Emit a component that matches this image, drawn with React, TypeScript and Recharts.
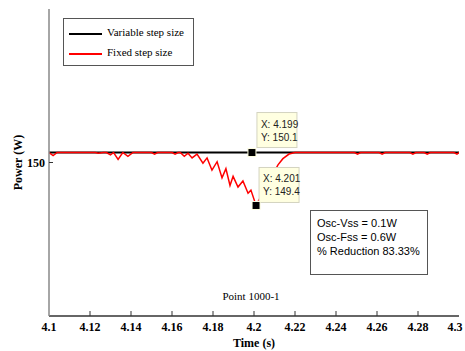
import { LineChart, Line, XAxis, YAxis, ReferenceDot, Label } from 'recharts'

// time axis (s)
const xTicks = [4.1, 4.12, 4.14, 4.16, 4.18, 4.2, 4.22, 4.24, 4.26, 4.28, 4.3]
const xTickLabels = ['4.1', '4.12', '4.14', '4.16', '4.18', '4.2', '4.22', '4.24', '4.26', '4.28', '4.3']
const yTicks = [150]
const yTickLabels = ['150']

// variable step size: flat
const varTime = [4.1, 4.3]
const varPower = [150.13, 150.13]

// fixed step size: ripples, then the dip around 4.2 s
const fixTime = [
  4.1, 4.102, 4.104, 4.1225, 4.124, 4.1265, 4.128, 4.13, 4.1315, 4.1337, 4.136, 4.1385, 4.141,
  4.15, 4.1515, 4.153, 4.16, 4.1615, 4.163, 4.164, 4.166, 4.1678, 4.1698, 4.1722, 4.1751, 4.1771,
  4.1795, 4.182, 4.1844, 4.1863, 4.1883, 4.1898, 4.1922, 4.1946, 4.1971, 4.1985, 4.201,
  4.2117, 4.2141, 4.2171, 4.22, 4.249, 4.2505, 4.252, 4.261, 4.2625, 4.264, 4.276, 4.2775, 4.279,
  4.283, 4.2845, 4.286, 4.2975, 4.299, 4.3,
]
const fixPower = [
  150.13, 150.09, 150.13, 150.13, 150.12, 150.13, 150.13, 150.1, 150.13, 150.04, 150.13, 150.08, 150.13,
  150.13, 150.11, 150.13, 150.13, 150.11, 150.13, 150.13, 150.08, 150.12, 150.06, 150.11, 149.99, 150.06,
  149.9, 150.01, 149.8, 149.92, 149.7, 149.82, 149.68, 149.76, 149.6, 149.64, 149.44,
  149.97, 150.05, 150.11, 150.13, 150.13, 150.11, 150.13, 150.13, 150.11, 150.13, 150.13, 150.11, 150.13,
  150.13, 150.11, 150.13, 150.13, 150.11, 150.13,
]

const varData = varTime.map((t, i) => ({ t, p: varPower[i] }))
const fixData = fixTime.map((t, i) => ({ t, p: fixPower[i] }))

const tip1 = { x: 4.199, y: 150.13, lines: ['X: 4.199', 'Y: 150.1'] }
const tip2 = { x: 4.201, y: 149.44, lines: ['X: 4.201', 'Y: 149.4'] }

const serif = '"Liberation Serif", "Times New Roman", serif'
const sans = '"Liberation Sans", Arial, sans-serif'

const BottomTick = (props: any) => {
  const { x, y, payload, index } = props
  const edge = index === 0 || index === xTicks.length - 1
  return (
    <g>
      {!edge && <line x1={x} y1={y} x2={x} y2={y - 5} stroke="#333" />}
      <text x={x} y={y + 15} textAnchor="middle" fontFamily={serif} fontWeight="bold" fontSize={12} fill="#000">
        {xTickLabels[xTicks.indexOf(payload.value)] ?? payload.value}
      </text>
    </g>
  )
}

const TopTick = (props: any) => {
  const { x, y, index } = props
  if (index === 0 || index === xTicks.length - 1) return <g />
  return <line x1={x} y1={y} x2={x} y2={y + 5} stroke="#333" />
}

const LeftTick = (props: any) => {
  const { x, y, payload } = props
  return (
    <g>
      <line x1={x} y1={y} x2={x + 4} y2={y} stroke="#333" />
      <text x={x - 4} y={y + 4} textAnchor="end" fontFamily={serif} fontWeight="bold" fontSize={12} fill="#000">
        {yTickLabels[yTicks.indexOf(payload.value)] ?? payload.value}
      </text>
    </g>
  )
}

const RightTick = (props: any) => {
  const { x, y } = props
  return <line x1={x - 5} y1={y} x2={x} y2={y} stroke="#333" />
}

const makeTip = (lines: string[], dx: number, dy: number) => (props: any) => {
  const { cx, cy } = props
  return (
    <g>
      <rect x={cx + dx} y={cy + dy} width={40} height={35} fill="#ffffe1" stroke="#d4d4c0" />
      {lines.map((l, i) => (
        <text key={i} x={cx + dx + 4} y={cy + dy + 15 + i * 13} fontFamily={sans} fontSize={10} fill="#222">
          {l}
        </text>
      ))}
      <rect x={cx - 4} y={cy - 4} width={8} height={8} fill="#000" stroke="#ffffe1" strokeWidth={1} />
    </g>
  )
}

export default function App() {
  return (
    <div style={{ position: 'absolute', left: 0, top: 0, width: 465, height: 351, background: '#fff' }}>
      <LineChart width={465} height={351} margin={{ top: 9, right: 6, bottom: 0, left: 0 }}>
        <XAxis
          dataKey="t"
          type="number"
          domain={[4.1, 4.3]}
          ticks={xTicks}
          allowDataOverflow
          height={35}
          tickSize={0}
          tickMargin={0}
          tickLine={false}
          axisLine={{ stroke: '#333', strokeWidth: 1.5 }}
          tick={<BottomTick />}
        >
          <Label
            content={(p: any) => {
              const vb = p.viewBox
              return (
                <text x={vb.x + vb.width / 2} y={vb.y + 31} textAnchor="middle" fontFamily={serif} fontWeight="bold" fontSize={12} fill="#000">
                  Time (s)
                </text>
              )
            }}
          />
        </XAxis>
        <XAxis
          xAxisId="top"
          dataKey="t"
          type="number"
          orientation="top"
          domain={[4.1, 4.3]}
          ticks={xTicks}
          height={0}
          tickSize={0}
          tickMargin={0}
          tickLine={false}
          axisLine={{ stroke: '#333', strokeWidth: 1.5 }}
          tick={<TopTick />}
        />
        <YAxis
          type="number"
          domain={[148, 152]}
          ticks={yTicks}
          width={49}
          tickSize={0}
          tickMargin={0}
          tickLine={false}
          axisLine={{ stroke: '#888', strokeWidth: 1.5 }}
          tick={<LeftTick />}
        >
          <Label
            content={(p: any) => {
              const vb = p.viewBox
              const cx = 18
              const cy = vb.y + vb.height / 2
              return (
                <text x={cx} y={cy} transform={`rotate(-90 ${cx} ${cy})`} textAnchor="middle" dominantBaseline="central" fontFamily={serif} fontWeight="bold" fontSize={12} fill="#000">
                  Power (W)
                </text>
              )
            }}
          />
        </YAxis>
        <YAxis
          yAxisId="right"
          orientation="right"
          type="number"
          domain={[148, 152]}
          ticks={yTicks}
          width={0}
          tickSize={0}
          tickMargin={0}
          tickLine={false}
          axisLine={{ stroke: '#999', strokeWidth: 2 }}
          tick={<RightTick />}
        />
        <Line data={varData} dataKey="p" stroke="#000" strokeWidth={2} dot={false} isAnimationActive={false} />
        <Line data={fixData} dataKey="p" stroke="#ff0000" strokeWidth={1.5} dot={false} isAnimationActive={false} />
        <ReferenceDot x={tip1.x} y={tip1.y} r={4} zIndex={2000} shape={makeTip(tip1.lines, 5, -40)} />
        <ReferenceDot x={tip2.x} y={tip2.y} r={4} zIndex={2000} shape={makeTip(tip2.lines, 3, -38)} />
      </LineChart>

      <div
        style={{
          position: 'absolute', left: 63, top: 18, width: 131, height: 48, border: '1px solid #555',
          background: '#fff', fontFamily: serif, fontSize: 11, boxSizing: 'border-box',
        }}
      >
        <div style={{ position: 'absolute', left: 5, top: 14, width: 33, height: 2, background: '#000' }} />
        <div style={{ position: 'absolute', left: 43, top: 7 }}>Variable step size</div>
        <div style={{ position: 'absolute', left: 5, top: 34, width: 33, height: 2, background: '#ff0000' }} />
        <div style={{ position: 'absolute', left: 43, top: 27 }}>Fixed step size</div>
      </div>

      <div
        style={{
          position: 'absolute', left: 310, top: 210, width: 118, height: 65, border: '1px solid #555',
          background: '#fff', fontFamily: sans, fontSize: 11, lineHeight: '14px', padding: '5px 0 0 6px',
          boxSizing: 'border-box', color: '#000',
        }}
      >
        <div>Osc-Vss = 0.1W</div>
        <div>Osc-Fss = 0.6W</div>
        <div>% Reduction 83.33%</div>
      </div>

      <div
        style={{
          position: 'absolute', left: 201, top: 290, width: 100, textAlign: 'center', fontFamily: serif, fontSize: 11,
        }}
      >
        Point 1000-1
      </div>
    </div>
  )
}
